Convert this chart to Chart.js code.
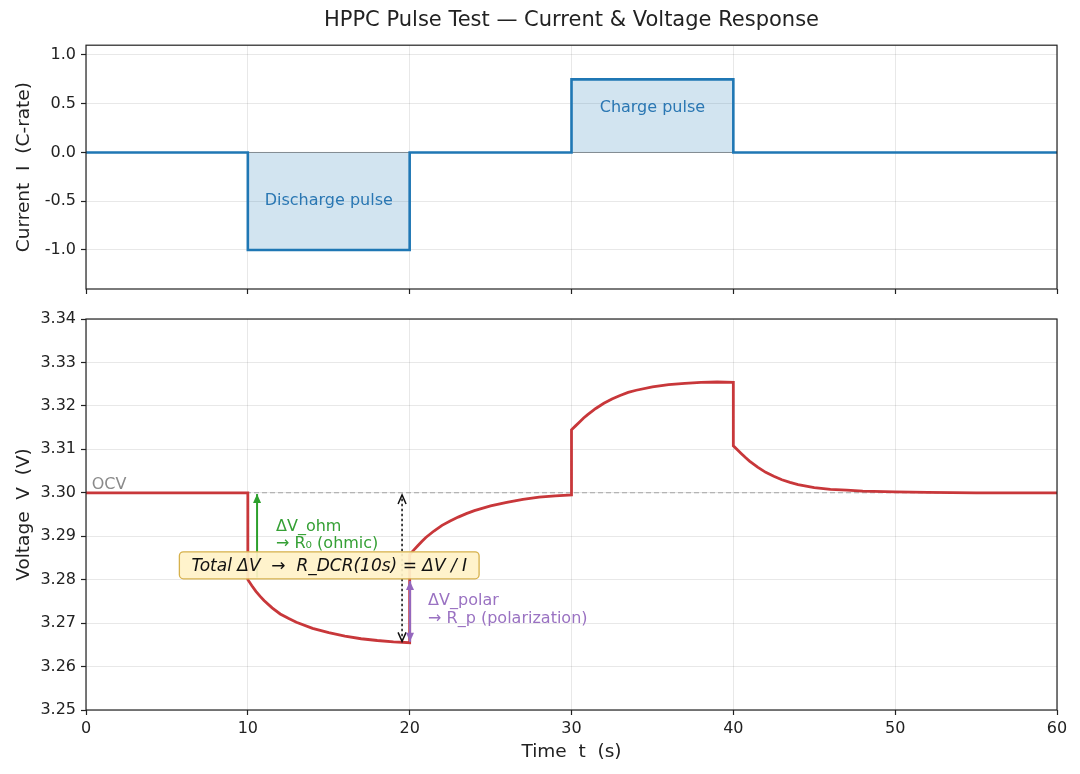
<!DOCTYPE html>
<html lang="en">
<head>
<meta charset="UTF-8" />
<title>HPPC Pulse Test</title>
<script src="https://cdn.jsdelivr.net/npm/chart.js"></script>
<style>
  body { margin: 0; background: #fff; }
  .panel { position: absolute; left: 0; width: 1080px; }
  #top { top: 0; height: 300px; }
  #bottom { top: 300px; height: 474px; }
</style>
</head>
<body>
<div class="panel" id="top"><canvas id="currentChart"></canvas></div>
<div class="panel" id="bottom"><canvas id="voltageChart"></canvas></div>
<script>
  // shared time axis
  const TIME_TICKS = [0, 10, 20, 30, 40, 50, 60];

  // current profile (C-rate)
  const CUR_T = [0, 10, 10, 20, 20, 30, 30, 40, 40, 60];
  const CUR_I = [0, 0, -1, -1, 0, 0, 0.75, 0.75, 0, 0];
  const CUR_TICKS = [-1.0, -0.5, 0.0, 0.5, 1.0];

  // voltage response
  const V_T = [0, 10,
               10, 10.25, 10.5, 10.75, 11, 11.5, 12, 12.5, 13, 14, 15, 16, 17, 18, 19, 20,
               20, 20.25, 20.5, 20.75, 21, 21.5, 22, 22.5, 23, 23.5, 24, 25, 26, 27, 28, 29, 30,
               30, 30.25, 30.5, 30.75, 31, 31.5, 32, 32.5, 33, 33.5, 34, 35, 36, 37, 38, 39, 40,
               40, 40.25, 40.5, 40.75, 41, 41.5, 42, 42.5, 43, 43.5, 44, 45, 46, 47, 48, 50, 52, 55, 60];
  const V_V = [3.3000, 3.3000,
               3.2800, 3.2786, 3.2773, 3.2762, 3.2752, 3.2735, 3.2721, 3.2711, 3.2702, 3.2688, 3.2678, 3.2670, 3.2664, 3.2660, 3.2657, 3.2655,
               3.2858, 3.2868, 3.2878, 3.2888, 3.2897, 3.2912, 3.2925, 3.2935, 3.2944, 3.2952, 3.2959, 3.2970, 3.2978, 3.2985, 3.2990, 3.2993, 3.2995,
               3.3145, 3.3154, 3.3163, 3.3172, 3.3180, 3.3194, 3.3206, 3.3216, 3.3224, 3.3231, 3.3236, 3.3244, 3.3249, 3.3252, 3.3254, 3.3255, 3.3254,
               3.3108, 3.3099, 3.3090, 3.3081, 3.3073, 3.3059, 3.3047, 3.3038, 3.3030, 3.3024, 3.3019, 3.3012, 3.3008, 3.3006, 3.3004, 3.3002, 3.3001, 3.3000, 3.3000];
  const V_TICKS = [3.25, 3.26, 3.27, 3.28, 3.29, 3.30, 3.31, 3.32, 3.33, 3.34];
  const OCV = 3.30;

  Chart.defaults.font.family = "'DejaVu Sans', sans-serif";
  Chart.defaults.color = '#222';

  const GRID = 'rgba(0,0,0,0.09)';
  const INK = '#222';

  const frame = {
    id: 'frame',
    afterDraw(chart) {
      const { ctx, chartArea: a } = chart;
      ctx.save();
      ctx.strokeStyle = INK;
      ctx.lineWidth = 1.2;
      ctx.strokeRect(a.left, a.top, a.right - a.left, a.bottom - a.top);
      ctx.restore();
    }
  };

  function xAxis(showLabels, height, title) {
    return {
      type: 'linear', min: 0, max: 60,
      afterBuildTicks: s => { s.ticks = TIME_TICKS.map(v => ({ value: v })); },
      afterFit: s => { s.height = height; },
      grid: { color: GRID, tickLength: 5, tickColor: INK, tickWidth: 1.2 },
      border: { display: false },
      ticks: { display: showLabels, padding: 4, font: { size: 16 }, color: INK },
      title: title ? { display: true, text: title, font: { size: 18.5 }, color: INK, padding: { top: 0, bottom: 11 } } : { display: false }
    };
  }

  function yAxis(tickVals, min, max, digits, title) {
    return {
      min: min, max: max,
      afterBuildTicks: s => { s.ticks = tickVals.map(v => ({ value: v })); },
      afterFit: s => { s.width = 86; s.paddingTop = 0; s.paddingBottom = 0; },
      grid: { color: GRID, tickLength: 5, tickColor: INK, tickWidth: 1.2 },
      border: { display: false },
      ticks: { padding: 5, font: { size: 16 }, color: INK, callback: v => Number(v).toFixed(digits) },
      title: { display: true, text: title, font: { size: 18.5 }, color: INK, padding: { top: 13, bottom: 0 } }
    };
  }

  function label(ctx, text, x, y, color, size, align, italic) {
    ctx.font = (italic ? 'italic ' : '') + size + "px 'DejaVu Sans'";
    ctx.fillStyle = color;
    ctx.textAlign = align;
    ctx.textBaseline = 'middle';
    ctx.fillText(text, x, y);
  }

  // vertical arrow; heads: 'end' (at y2) or 'both'; open heads are chevrons
  function arrow(ctx, x, y1, y2, color, width, dash, heads, open) {
    ctx.save();
    ctx.strokeStyle = color;
    ctx.fillStyle = color;
    ctx.lineWidth = width;
    ctx.setLineDash(dash);
    ctx.beginPath();
    ctx.moveTo(x, y1);
    ctx.lineTo(x, y2);
    ctx.stroke();
    ctx.setLineDash([]);
    const tips = heads === 'both' ? [[y2, Math.sign(y2 - y1)], [y1, Math.sign(y1 - y2)]] : [[y2, Math.sign(y2 - y1)]];
    tips.forEach(([ty, d]) => {
      ctx.beginPath();
      ctx.moveTo(x - 4, ty - d * 9);
      ctx.lineTo(x, ty);
      ctx.lineTo(x + 4, ty - d * 9);
      if (open) { ctx.stroke(); } else { ctx.closePath(); ctx.fill(); }
    });
    ctx.restore();
  }

  const currentNotes = {
    id: 'currentNotes',
    afterDatasetsDraw(chart) {
      const { ctx, scales: { x, y } } = chart;
      ctx.save();
      label(ctx, 'Discharge pulse', x.getPixelForValue(15), y.getPixelForValue(-0.5), '#2a77b3', 16, 'center');
      label(ctx, 'Charge pulse', x.getPixelForValue(35), y.getPixelForValue(0.46), '#2a77b3', 16, 'center');
      ctx.restore();
    }
  };

  const voltageNotes = {
    id: 'voltageNotes',
    afterDatasetsDraw(chart) {
      const { ctx, scales: { x, y } } = chart;
      const px = v => x.getPixelForValue(v);
      const py = v => y.getPixelForValue(v);
      ctx.save();

      label(ctx, 'OCV', px(0.35), py(3.3019), '#8a8a8a', 16, 'left');

      // ohmic drop
      arrow(ctx, px(10.57), py(3.2805), py(3.2997), '#2ca02c', 2, [], 'end', false);
      label(ctx, 'ΔV_ohm', px(11.74), py(3.2922), '#35a035', 16, 'left');
      label(ctx, '→ R₀ (ohmic)', px(11.74), py(3.2883), '#35a035', 16, 'left');

      // total drop
      arrow(ctx, px(19.53), py(3.2658), py(3.2995), '#111', 1.5, [2.5, 2.5], 'both', true);

      // polarization drop
      arrow(ctx, px(20.02), py(3.2657), py(3.2797), '#9467bd', 2.2, [], 'both', false);
      label(ctx, 'ΔV_polar', px(21.14), py(3.2752), '#9a72c2', 16, 'left');
      label(ctx, '→ R_p (polarization)', px(21.14), py(3.2710), '#9a72c2', 16, 'left');

      // summary box
      const text = 'Total ΔV  →  R_DCR(10s) = ΔV / I';
      ctx.font = "italic 17px 'DejaVu Sans'";
      const w = ctx.measureText(text).width + 24;
      const h = 27;
      const cx = px(15.03), cy = py(3.2833);
      ctx.beginPath();
      ctx.roundRect(cx - w / 2, cy - h / 2, w, h, 4);
      ctx.fillStyle = 'rgba(255,242,200,0.93)';
      ctx.fill();
      ctx.strokeStyle = '#d6b14c';
      ctx.lineWidth = 1.3;
      ctx.stroke();
      label(ctx, text, cx, cy + 1, '#111', 17, 'center', true);

      ctx.restore();
    }
  };

  new Chart(document.getElementById('currentChart'), {
    type: 'line',
    data: {
      datasets: [{
        data: CUR_T.map((t, i) => ({ x: t, y: CUR_I[i] })),
        borderColor: '#1f77b4',
        borderWidth: 2.6,
        backgroundColor: 'rgba(31,119,180,0.2)',
        fill: 'origin',
        pointRadius: 0,
        tension: 0
      }, {
        data: [{ x: 0, y: 0 }, { x: 60, y: 0 }],
        borderColor: '#8c8c8c',
        borderWidth: 1,
        pointRadius: 0,
        fill: false
      }]
    },
    options: {
      responsive: true,
      maintainAspectRatio: false,
      animation: false,
      layout: { padding: { left: 0, right: 23, top: 0, bottom: 0 } },
      plugins: {
        legend: { display: false },
        tooltip: { enabled: false },
        title: {
          display: true,
          fullSize: false,
          text: 'HPPC Pulse Test — Current & Voltage Response',
          color: INK,
          font: { size: 21, weight: 'normal' },
          padding: { top: 8, bottom: 12 }
        }
      },
      scales: {
        x: xAxis(false, 11, null),
        y: yAxis(CUR_TICKS, -1.4, 1.1, 1, 'Current  I  (C-rate)')
      }
    },
    plugins: [currentNotes, frame]
  });

  new Chart(document.getElementById('voltageChart'), {
    type: 'line',
    data: {
      datasets: [{
        data: V_T.map((t, i) => ({ x: t, y: V_V[i] })),
        borderColor: '#c8373a',
        borderWidth: 2.8,
        pointRadius: 0,
        tension: 0,
        fill: false
      }, {
        data: [{ x: 0, y: OCV }, { x: 60, y: OCV }],
        borderColor: '#a3a3a3',
        borderWidth: 1.1,
        borderDash: [5, 3],
        pointRadius: 0,
        fill: false
      }]
    },
    options: {
      responsive: true,
      maintainAspectRatio: false,
      animation: false,
      layout: { padding: { left: 0, right: 23, top: 19, bottom: 0 } },
      plugins: { legend: { display: false }, tooltip: { enabled: false } },
      scales: {
        x: xAxis(true, 64, 'Time  t  (s)'),
        y: yAxis(V_TICKS, 3.25, 3.34, 2, 'Voltage  V  (V)')
      }
    },
    plugins: [voltageNotes, frame]
  });
</script>
</body>
</html>
